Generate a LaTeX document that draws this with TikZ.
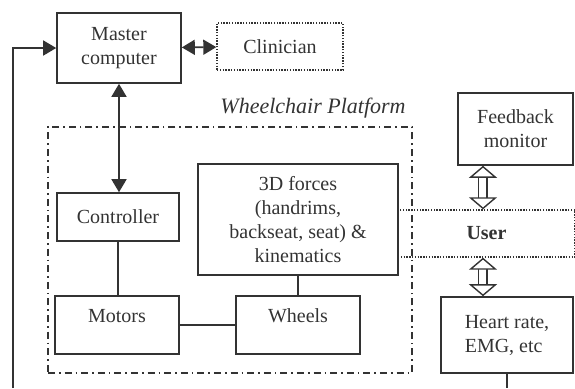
\documentclass[tikz,border=0pt]{standalone}
\usepackage{fontspec}
\setmainfont{Liberation Serif}
\usetikzlibrary{arrows.meta}
\definecolor{ink}{HTML}{333333}

\begin{document}
\begin{tikzpicture}[x=0.5pt, y=-0.5pt,
    box/.style={rectangle, draw=ink, line width=0.8pt, align=center, text=ink, inner sep=1pt},
    dotbox/.style={box, line width=0.7pt, dash pattern=on 0.7pt off 0.7pt},
    platform/.style={rectangle, draw=ink, line width=0.8pt, dash pattern=on 3.5pt off 2pt on 0.8pt off 2pt},
    link/.style={draw=ink, line width=0.8pt},
    arrow/.style={link, {Triangle[width=7.5pt,length=6.5pt]}-{Triangle[width=7.5pt,length=6.5pt]}},
    hollow/.style={draw=ink, line width=0.7pt, double=white, double distance=3.5pt,
        {Triangle[width=14pt,length=6pt,fill=white]}-{Triangle[width=14pt,length=6pt,fill=white]}}
]
\useasboundingbox (0,0) rectangle (575,388);

% Wheelchair platform frame
\node[platform, minimum width=182pt, minimum height=123pt] (platform) at (230,250) {};
\node[text=ink, font=\fontsize{11}{13}\selectfont\itshape] (platlabel) at (313,108) {Wheelchair Platform};

% Top row
\node[box, minimum width=62pt, minimum height=35pt] (master) at (119,48) {Master\\computer};
\node[dotbox, minimum width=63pt, minimum height=23.5pt] (clinician) at (280,46.5) {Clinician};
\node[box, minimum width=57.5pt, minimum height=36pt] (feedback) at (515.5,129) {Feedback\\monitor};

% Platform contents
\node[box, minimum width=61pt, minimum height=24pt] (controller) at (118,217) {Controller};
\node[box, minimum width=100pt, minimum height=55.5pt] (forces) at (298,219.5) {3D forces\\(handrims,\\backseat, seat) \&\\kinematics};
\node[box, text depth=9pt, minimum width=62pt, minimum height=29pt] (motors) at (117,325) {Motors};
\node[box, text depth=9pt, minimum width=62pt, minimum height=29pt] (wheels) at (298,325) {Wheels};

% User side
\node[dotbox, minimum width=88.5pt, minimum height=23.5pt, font=\bfseries] (user) at (486.5,233.5) {User};
\node[box, align=left, minimum width=66pt, minimum height=38pt] (heart) at (507,335) {Heart rate,\\EMG, etc};

% Connections
\draw[arrow] (master) -- (clinician);
\draw[arrow] (master.south) -- (master.south |- controller.north);
\draw[link] (controller.south) -- (controller.south |- motors.north);
\draw[link] (motors) -- (wheels);
\draw[link] (forces) -- (wheels);
\draw[hollow] ([xshift=-1.75pt]user.north |- feedback.south) -- ([xshift=-1.75pt]user.north);
\draw[hollow] ([xshift=-1.75pt]user.south) -- ([xshift=-1.75pt]user.south |- heart.north);

% Feedback loop (runs off the bottom)
\coordinate (loopleft) at (13,388);
\coordinate (loopright) at (heart.south |- loopleft);
\draw[link] (heart.south) -- (loopright);
\draw[link, -{Triangle[width=7.5pt,length=6.5pt]}] (loopleft) |- (master.west);

\end{tikzpicture}
\end{document}
